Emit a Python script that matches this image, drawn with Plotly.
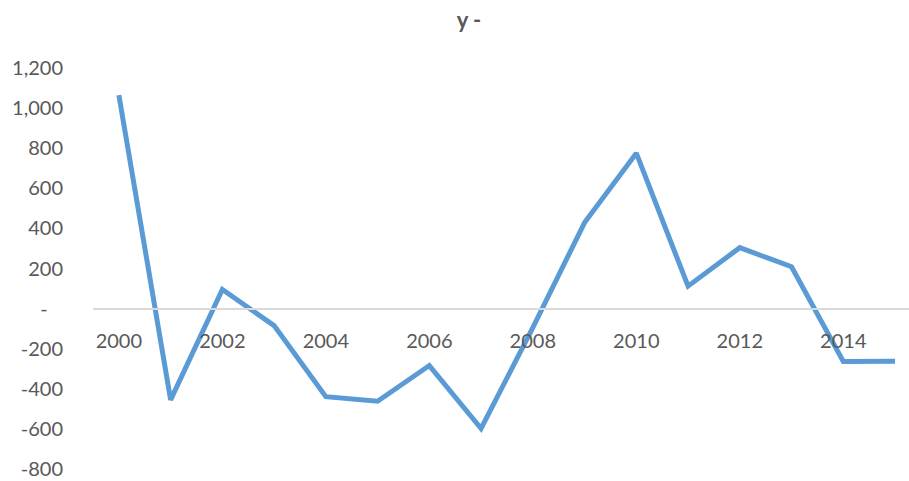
import plotly.graph_objects as go

# Annual series
years = list(range(2000, 2016))
values = [1065, -455, 95, -85, -439, -462, -284, -598, -95, 429, 775, 112, 304, 209, -264, -262]

# Axis ticks
y_ticks = [-800, -600, -400, -200, 0, 200, 400, 600, 800, 1000, 1200]
y_tick_text = ["-800", "-600", "-400", "-200", "-\u00a0\u00a0\u00a0", "200", "400", "600", "800", "1,000", "1,200"]
x_ticks = [2000, 2002, 2004, 2006, 2008, 2010, 2012, 2014]
x_tick_text = [str(v) for v in x_ticks]

title_text = "y -"

text_color = "#595959"
font_family = "Lato, 'Open Sans', sans-serif"

fig = go.Figure()
fig.add_trace(go.Scatter(
    x=years,
    y=values,
    mode="lines",
    line=dict(color="#5b9bd5", width=5),
    hoverinfo="skip",
    showlegend=False,
))

fig.update_layout(
    width=909,
    height=481,
    margin=dict(l=93, r=0, t=68, b=12),
    paper_bgcolor="white",
    plot_bgcolor="white",
    font=dict(family=font_family, color=text_color, size=20),
    title=dict(
        text="<b>" + title_text + "</b>",
        x=469 / 909,
        xanchor="center",
        y=1 - 20 / 481,
        yanchor="middle",
        font=dict(size=22, color=text_color, family=font_family),
    ),
    xaxis=dict(
        range=[1999.5, 2015.27],
        tickvals=x_ticks,
        ticktext=x_tick_text,
        showgrid=False,
        zeroline=False,
        showline=True,
        linecolor="#d9d9d9",
        linewidth=2,
        anchor="free",
        position=0.4,
        ticks="",
        ticklabelstandoff=14,
        tickfont=dict(size=20, color=text_color),
    ),
    yaxis=dict(
        range=[-800, 1200],
        tickvals=y_ticks,
        ticktext=y_tick_text,
        showgrid=False,
        zeroline=False,
        showline=False,
        ticks="",
        ticklabelstandoff=29,
        tickfont=dict(size=20, color=text_color),
    ),
)

fig.write_html("out.html")
